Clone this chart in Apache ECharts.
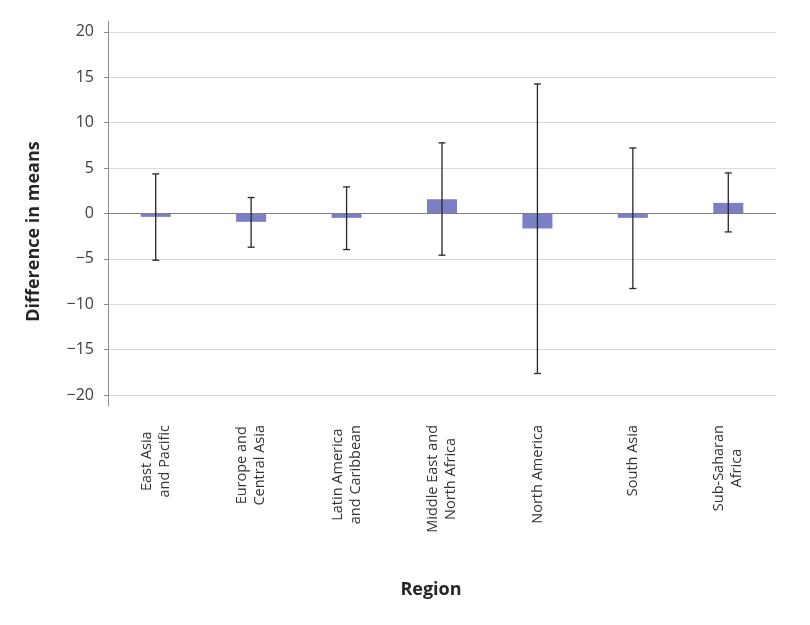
<!DOCTYPE html>
<html>
<head>
<meta charset="utf-8">
<script src="https://cdn.jsdelivr.net/npm/echarts@6/dist/echarts.min.js"></script>
<style>
html,body{margin:0;padding:0;background:#fff;}
#chart{width:810px;height:625px;}
</style>
</head>
<body>
<div id="chart"></div>
<script>
const categories = [
  'East Asia\nand Pacific',
  'Europe and\nCentral Asia',
  'Latin America\nand Caribbean',
  'Middle East and\nNorth Africa',
  'North America',
  'South Asia',
  'Sub-Saharan\nAfrica'
];
const meanDiff = [-0.37, -0.92, -0.48, 1.57, -1.65, -0.48, 1.17];
const ciLow = [-5.14, -3.71, -3.97, -4.59, -17.62, -8.26, -2.03];
const ciHigh = [4.36, 1.76, 2.93, 7.78, 14.27, 7.22, 4.47];
const yTicks = [-20, -15, -10, -5, 0, 5, 10, 15, 20];

const errData = categories.map((c, i) => [i, ciLow[i], ciHigh[i]]);

const chart = echarts.init(document.getElementById('chart'));
chart.setOption({
  animation: false,
  backgroundColor: '#fff',
  grid: { left: 108, right: 34, top: 21, bottom: 219 },
  xAxis: {
    type: 'category',
    data: categories,
    name: 'Region',
    nameLocation: 'middle',
    nameGap: 175,
    nameTextStyle: { fontFamily: 'Open Sans', fontWeight: 'bold', fontSize: 18, color: '#262626', padding: [0, 22, 0, 0] },
    axisLine: { show: false, onZero: false },
    axisTick: { show: false },
    axisLabel: {
      rotate: 90,
      margin: 19,
      interval: 0,
      fontFamily: 'Open Sans',
      fontSize: 14.5,
      color: '#333',
      lineHeight: 18,
      padding: [0, 0, 0, 0],
      formatter: v => v.split('\n').map(l => '{c|' + l + '}').join('\n'),
      rich: { c: { align: 'center', fontFamily: 'Open Sans', fontSize: 14.5, lineHeight: 18, color: '#333' } }
    }
  },
  yAxis: {
    type: 'value',
    min: -21.2,
    max: 21.2,
    name: 'Difference in means',
    nameLocation: 'middle',
    nameGap: 65,
    nameTextStyle: { fontFamily: 'Open Sans', fontWeight: 'bold', fontSize: 18, color: '#262626', padding: [0, 36, 0, 0] },
    axisLine: { show: true, lineStyle: { color: '#8c8c8c', width: 1 } },
    axisTick: { show: true, length: 4, customValues: yTicks, lineStyle: { color: '#8c8c8c' } },
    axisLabel: {
      customValues: yTicks,
      margin: 14,
      fontFamily: 'Open Sans',
      fontSize: 16,
      color: '#404040',
      formatter: v => (v < 0 ? '\u2212' + Math.abs(v) : String(v))
    },
    splitLine: { show: true, lineStyle: { color: '#d9d9d9', width: 1 } }
  },
  series: [
    {
      type: 'bar',
      data: meanDiff,
      barWidth: 30,
      itemStyle: { color: '#7b7fc6' },
      markLine: {
        silent: true,
        symbol: 'none',
        label: { show: false },
        lineStyle: { color: '#7f7f7f', type: 'solid', width: 1.2 },
        data: [{ yAxis: 0 }]
      }
    },
    {
      type: 'custom',
      data: errData,
      z: 5,
      renderItem: function (params, api) {
        const x = api.value(0);
        const lo = api.coord([x, api.value(1)]);
        const hi = api.coord([x, api.value(2)]);
        const hw = 3.5;
        const st = { stroke: '#262626', lineWidth: 1.3 };
        return {
          type: 'group',
          children: [
            { type: 'line', shape: { x1: hi[0], y1: hi[1], x2: lo[0], y2: lo[1] }, style: st },
            { type: 'line', shape: { x1: hi[0] - hw, y1: hi[1], x2: hi[0] + hw, y2: hi[1] }, style: st },
            { type: 'line', shape: { x1: lo[0] - hw, y1: lo[1], x2: lo[0] + hw, y2: lo[1] }, style: st }
          ]
        };
      }
    }
  ]
});
</script>
</body>
</html>
